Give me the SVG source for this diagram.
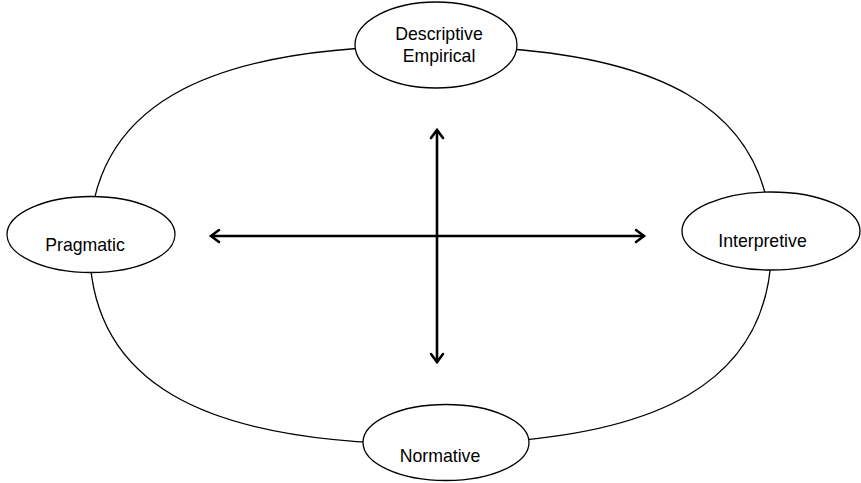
<svg xmlns="http://www.w3.org/2000/svg" width="861" height="483" viewBox="0 0 861 483">
<defs>
<style>
.big{fill:none;stroke:#000;stroke-width:1.3}
.node{fill:#fff;stroke:#000;stroke-width:1.3}
.lbl{font-family:"Liberation Sans",Arial,sans-serif;font-size:17.7px;fill:#000;text-anchor:middle}
.ax{stroke:#000;stroke-width:2.6;fill:none}
.hd{stroke:#000;stroke-width:2.6;fill:none;stroke-linecap:round;stroke-linejoin:miter}
</style>
</defs>
<rect width="861" height="483" fill="#fff"/>
<path class="big" d="M771.5,245 C771.5,109.7 662.4,46 430.5,46 C198.6,46 89.5,109.7 89.5,245 C89.5,380.3 198.6,444 430.5,444 C662.4,444 771.5,380.3 771.5,245 Z"/>
<g id="connectors">
<line class="ax" x1="211" y1="236" x2="644" y2="236"/>
<line class="ax" x1="437" y1="130" x2="437" y2="362"/>
<polyline class="hd" points="219,230 211,236 219,242"/>
<polyline class="hd" points="636,230 644,236 636,242"/>
<polyline class="hd" points="431,138 437,130 443,138"/>
<polyline class="hd" points="431,354 437,362 443,354"/>
</g>
<g id="descriptive">
<ellipse class="node" cx="436" cy="45" rx="81" ry="43"/>
<text class="lbl" x="439" y="40">Descriptive</text>
<text class="lbl" x="439" y="61.5">Empirical</text>
</g>
<g id="pragmatic">
<ellipse class="node" cx="91" cy="234.5" rx="84" ry="38"/>
<text class="lbl" x="85" y="251">Pragmatic</text>
</g>
<g id="interpretive">
<ellipse class="node" cx="771" cy="231" rx="89" ry="39"/>
<text class="lbl" x="762.5" y="246.5">Interpretive</text>
</g>
<g id="normative">
<ellipse class="node" cx="446" cy="442.5" rx="83" ry="38"/>
<text class="lbl" x="440" y="461.5">Normative</text>
</g>
</svg>
